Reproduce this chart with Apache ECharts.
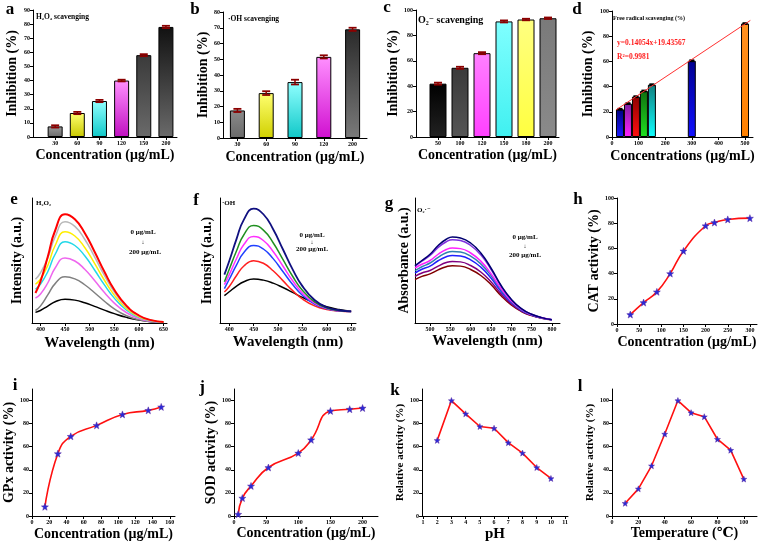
<!DOCTYPE html>
<html><head><meta charset="utf-8">
<script src="https://cdn.jsdelivr.net/npm/echarts@6/dist/echarts.min.js"></script>
<style>html,body{margin:0;padding:0;background:#fff;}#c{width:764px;height:548px;}</style>
</head><body><div id="c"></div>
<script>
// ---------------- DATA ----------------
// a: H2O2 scavenging
const aConc = ['30','60','90','120','150','200'];
const aInhib = [7.5, 17, 25.5, 40, 58, 78];
const aErr = [0.8, 0.8, 0.8, 0.6, 0.7, 0.8];
const aYTicks = [0,10,20,30,40,50,60,70,80,90];
// b: OH scavenging
const bConc = ['30','60','90','120','200'];
const bInhib = [17.5, 28.5, 35.5, 51.5, 69];
const bErr = [1, 1.2, 1.5, 1, 1];
const bYTicks = [0,10,20,30,40,50,60,70,80];
// c: O2- scavenging
const cConc = ['50','100','120','150','180','200'];
const cInhib = [42, 54.5, 66, 91, 92.5, 93.5];
const cErr = [0.8, 0.8, 0.8, 0.8, 0.6, 0.6];
const cYTicks = [0,20,40,60,80,100];
// d: free radical scavenging
const dConc = [30, 60, 90, 120, 150, 300, 500];
const dInhib = [22, 26.5, 32, 36.5, 41.5, 60.5, 90];
const dErr = [0.4, 0.4, 0.4, 0.4, 0.4, 0.4, 0.4];
const dFitX = [15, 520];
const dFitY = [21.5, 92.5];
const dXTicks = [0,100,200,300,400,500];
const dYTicks = [0,20,40,60,80,100];
// e: H2O2 fluorescence
const eWl = [390,400,415,430,450,470,490,510,530,550,575,600,625,650];
const eI0   = [24, 33, 53, 74, 87, 83, 72, 57, 41, 26.6, 13.7, 6, 2.3, 0.8];
const eI30  = [35, 40, 52, 69, 81, 77.3, 67, 52.9, 38, 24.8, 12.7, 5.6, 2.2, 0.7];
const eI60  = [31, 35, 46, 62, 73, 69.6, 60.4, 47.7, 34.2, 22.3, 11.5, 5, 2, 0.7];
const eI90  = [27, 31, 41, 55, 65, 62, 53.8, 42.4, 30.5, 19.9, 10.2, 4.5, 1.8, 0.6];
const eI120 = [20, 23, 32, 44, 52, 49.6, 43, 34, 24.4, 15.9, 8.2, 3.6, 1.4, 0.5];
const eI150 = [10, 13.5, 22.5, 31.5, 37, 35.3, 30.6, 24.2, 17.4, 11.3, 5.8, 2.6, 1, 0.4];
const eI200 = [8.5, 10, 13.5, 17, 19, 18.3, 16.2, 13.3, 10.3, 7.5, 4.5, 2.3, 1, 0.4];
const eXTicks = [400,450,500,550,600,650];
// f: OH fluorescence
const fWl = [390,400,415,430,450,470,490,510,530,550,575,600,625,650];
const fI0   = [38.7, 49.6, 67.3, 82.7, 91.5, 87, 75, 59, 42.9, 29.5, 18.4, 12.6, 10.2, 9.3];
const fI30  = [33, 43, 57.8, 70.6, 78.1, 74.3, 64.2, 50.9, 37.4, 26.2, 16.9, 12, 10, 9.3];
const fI60  = [30.7, 38.7, 51.6, 62.8, 69.3, 66, 57.2, 45.6, 33.8, 24, 15.9, 11.7, 9.8, 9.3];
const fI90  = [27.5, 35, 46.5, 56.4, 62.1, 59.2, 51.5, 41.2, 30.8, 22.2, 15.1, 11.3, 9.7, 9.3];
const fI120 = [24.8, 29.2, 38, 45.6, 49.9, 47.8, 41.8, 33.9, 25.9, 19.2, 13.7, 10.8, 9.6, 9.2];
const fI200 = [21.9, 25, 29.5, 33, 35.2, 34.3, 31.9, 28.4, 24.5, 20.5, 16.3, 13, 10.8, 9.4];
const fXTicks = [400,450,500,550,600,650];
// g: O2- absorbance
const gWl = [463,480,500,520,540,555,575,600,625,650,675,700,725,750,775,800];
const gA0   = [45.9, 50, 55, 62, 67, 68.8, 68, 64, 56, 44, 30, 19, 11.5, 7, 4.3, 2.7];
const gA50  = [45.5, 49.5, 54, 60.5, 65, 66.7, 66, 62, 54.5, 43, 29.5, 18.7, 11.3, 7, 4.3, 2.7];
const gA100 = [44, 47, 50, 55, 58.8, 60, 59.5, 56, 49.5, 39.5, 27.5, 17.7, 10.8, 6.7, 4.2, 2.7];
const gA120 = [41.9, 45, 48, 52.5, 56.2, 57.3, 56.8, 53.5, 47.3, 38, 26.5, 17.2, 10.5, 6.6, 4.1, 2.6];
const gA150 = [40, 43, 45.5, 49.8, 53, 54.1, 53.6, 50.5, 44.7, 36, 25.2, 16.5, 10.2, 6.4, 4, 2.6];
const gA180 = [37.3, 40, 42, 45.5, 48.4, 49.3, 48.9, 46, 40.8, 33, 23.3, 15.3, 9.6, 6.1, 3.9, 2.5];
const gA200 = [34.7, 37.3, 39.3, 42.5, 45, 45.9, 45.5, 42.8, 38, 30.8, 21.8, 14.4, 9.2, 5.9, 3.8, 2.5];
const gXTicks = [500,550,600,650,700,750,800];
// h: CAT activity
const hConc = [30, 60, 90, 120, 150, 200, 220, 250, 300];
const hAct = [7.5, 17, 25.5, 40, 58, 78, 80.5, 83, 84];
const hXTicks = [0,50,100,150,200,250,300];
const hYTicks = [0,20,40,60,80,100];
// i: GPx activity
const iConc = [15, 30, 45, 75, 105, 135, 150];
const iAct = [8, 54, 69, 78.5, 88, 91.5, 94.5];
const iXTicks = [0,20,40,60,80,100,120,140,160];
// j: SOD activity
const jConc = [6.5, 13, 26.5, 53.5, 100, 120, 150, 180, 200];
const jAct = [1.5, 15.5, 26, 42, 54.5, 66, 91, 92.5, 93.5];
const jXTicks = [0,50,100,150,200];
// k: pH
const kPH = [2, 3, 4, 5, 6, 7, 8, 9, 10];
const kAct = [65.5, 100, 88.5, 77.5, 76, 63.5, 54.5, 42, 32.5];
const kXTicks = [1,2,3,4,5,6,7,8,9,10,11];
// l: temperature
const lTemp = [10, 20, 30, 40, 50, 60, 70, 80, 90, 100];
const lAct = [11, 23.5, 43.5, 71, 100, 89.5, 86, 66.5, 57, 32];
const lXTicks = [0,20,40,60,80,100];
const actYTicks = [0,20,40,60,80,100];

// ---------------- STYLE ----------------
const SERIF = "'Liberation Serif','DejaVu Serif',serif";
const G = (t, b) => new echarts.graphic.LinearGradient(0,0,0,1,[{offset:0,color:t},{offset:1,color:b}]);
const aColors = [G('#9a9a9a','#6a6a6a'), G('#ffff70','#c8c800'), G('#90ffff','#10c8c8'), G('#ff90ff','#c010c0'), G('#3a3a3a','#6a6a6a'), G('#111111','#6a6a6a')];
const bColors = [G('#8a8a8a','#6a6a6a'), G('#ffff70','#d0d000'), G('#90ffff','#10c8c8'), G('#ff90ff','#d010d0'), G('#2a2a2a','#7a7a7a')];
const cColors = [G('#000000','#222222'), G('#3a3a3a','#555555'), G('#ff80ff','#ff40ff'), G('#80ffff','#40f0f0'), G('#ffff80','#ffff40'), G('#7a7a7a','#8a8a8a')];
const dColors = [G('#000080','#1a1aff'), G('#8020a0','#ff20ff'), G('#900000','#ff1010'), G('#107010','#20e020'), G('#108080','#10ffff'), G('#000090','#1010ff'), G('#ff9020','#ff8000')];

const grids = [
  {left:33, top:10, width:144, height:127},
  {left:223, top:12, width:144, height:126},
  {left:416, top:10, width:143, height:127},
  {left:612, top:11, width:141, height:126},
  {left:32, top:198, width:135, height:125},
  {left:220, top:198, width:136, height:125},
  {left:415, top:198, width:145, height:125},
  {left:617, top:198, width:140, height:126},
  {left:32, top:389, width:143, height:127},
  {left:234, top:389, width:144, height:127},
  {left:422, top:389, width:146, height:127},
  {left:612, top:389, width:145, height:127}
];

const lbl = {fontFamily:SERIF, fontWeight:'bold', fontSize:6, color:'#000'};
function axBase(gi, name, gap, size){
  return {gridIndex:gi, splitLine:{show:false},
    axisLine:{show:true, onZero:false, lineStyle:{color:'#000', width:1}},
    name:name, nameLocation:'middle', nameGap:gap,
    nameTextStyle:{fontFamily:SERIF, fontWeight:'bold', fontSize:size, color:'#000'}};
}
function vAx(gi, min, max, ticks, name, gap, size, fmt){
  const o = axBase(gi, name, gap, size);
  o.type = 'value'; o.min = min; o.max = max;
  if (ticks) {
    o.axisTick = {show:true, length:3, customValues:ticks, lineStyle:{color:'#000'}};
    o.axisLabel = Object.assign({show:true, margin:3, customValues:ticks}, lbl);
    if (fmt) o.axisLabel.formatter = fmt;
  } else {
    o.axisTick = {show:false}; o.axisLabel = {show:false};
  }
  return o;
}
const idxA = aConc.map((c,i)=>i), idxC = cConc.map((c,i)=>i);

const xAxes = [
  vAx(0, -1, 5.5, idxA, 'Concentration (μg/mL)', 11, 14, v=>aConc[v]),
  Object.assign(axBase(1, 'Concentration (μg/mL)', 12, 14), {type:'category', data:bConc, boundaryGap:true,
    axisTick:{show:true, length:3, alignWithLabel:true, lineStyle:{color:'#000'}}, axisLabel:Object.assign({margin:3}, lbl)}),
  vAx(2, -1, 5.5, idxC, 'Concentration (μg/mL)', 11, 14, v=>cConc[v]),
  vAx(3, 0, 530, dXTicks, 'Concentrations (μg/mL)', 12, 14),
  vAx(4, 383, 657, eXTicks, 'Wavelength (nm)', 13, 15),
  vAx(5, 381, 660, fXTicks, 'Wavelength (nm)', 12, 15),
  vAx(6, 463, 820, gXTicks, 'Wavelength (nm)', 11, 15),
  vAx(7, 0, 316, hXTicks, 'Concentration (μg/mL)', 11, 14),
  vAx(8, 0, 166, iXTicks, 'Concentration (μg/mL)', 11, 14),
  vAx(9, 0, 224, jXTicks, 'Concentration (μg/mL)', 10, 14),
  vAx(10, 0.93, 11.2, kXTicks, 'pH', 11, 15),
  vAx(11, 0, 110, lXTicks, 'Temperature (℃)', 10, 14)
];
const yAxes = [
  vAx(0, 0, 90, aYTicks, 'Inhibition (%)', 14, 14),
  vAx(1, 0, 80, bYTicks, 'Inhibition (%)', 13, 14),
  vAx(2, 0, 100, cYTicks, 'Inhibition (%)', 14, 14),
  vAx(3, 0, 100, dYTicks, 'Inhibition (%)', 17, 14),
  vAx(4, 0, 100, null, 'Intensity (a.u.)', 8, 14),
  vAx(5, 0, 100, null, 'Intensity (a.u.)', 6, 14),
  vAx(6, 0, 100, null, 'Absorbance (a.u.)', 4, 14),
  vAx(7, 0, 100, hYTicks, 'CAT activity (%)', 13, 14),
  vAx(8, 0, 110, actYTicks, 'GPx activity (%)', 13, 14),
  vAx(9, 0, 110, actYTicks, 'SOD activity (%)', 13, 14),
  vAx(10, 0, 110, actYTicks, 'Relative activity (%)', 15, 11),
  vAx(11, 0, 110, actYTicks, 'Relative activity (%)', 15, 11)
];

function errSeries(gi, data, color, capW){
  return {type:'custom', xAxisIndex:gi, yAxisIndex:gi, data:data, z:5, silent:true,
    renderItem:function(params, api){
      const x = api.value(0), v = api.value(1), e = api.value(2);
      const hi = api.coord([x, v+e]), lo = api.coord([x, v-e]);
      const w = capW/2;
      return {type:'group', children:[
        {type:'line', shape:{x1:hi[0], y1:hi[1], x2:lo[0], y2:lo[1]}, style:{stroke:color, lineWidth:1.5}},
        {type:'line', shape:{x1:hi[0]-w, y1:hi[1], x2:hi[0]+w, y2:hi[1]}, style:{stroke:color, lineWidth:1.8}},
        {type:'line', shape:{x1:lo[0]-w, y1:lo[1], x2:lo[0]+w, y2:lo[1]}, style:{stroke:color, lineWidth:1.8}}
      ]};
    }};
}
function barSeries(gi, pts, colors, w){
  return {type:'bar', xAxisIndex:gi, yAxisIndex:gi, barWidth:w, barGap:'-100%',
    data: pts.map((p,i)=>({value:p, itemStyle:{color:colors[i], borderColor:'#000', borderWidth:1}}))};
}
function curve(gi, xs, ys, color, w){
  return {type:'line', xAxisIndex:gi, yAxisIndex:gi, smooth:true, showSymbol:false, symbol:'none',
    data: xs.map((x,i)=>[x, ys[i]]), lineStyle:{color:color, width:w||1.5}};
}
const STAR = 'path://M12,1 L14.9,8.6 L23,9 L16.6,14 L18.8,22 L12,17.5 L5.2,22 L7.4,14 L1,9 L9.1,8.6 Z';
function actLine(gi, xs, ys, smooth, sym, size){
  return {type:'line', xAxisIndex:gi, yAxisIndex:gi, smooth:smooth, symbol:sym, symbolSize:size,
    data: xs.map((x,i)=>[x, ys[i]]), lineStyle:{color:'#ff1010', width:1.6},
    itemStyle:{color:'#2a2ad8', borderColor:'#5a2aa0', borderWidth:0.5}, z:3};
}

const series = [
  barSeries(0, aInhib.map((v,i)=>[i,v]), aColors, 15),
  errSeries(0, aInhib.map((v,i)=>[i, v, aErr[i]]), '#8b0000', 8),
  barSeries(1, bInhib.map((v,i)=>[i,v]), bColors, 15),
  errSeries(1, bInhib.map((v,i)=>[i, v, bErr[i]]), '#8b0000', 8),
  barSeries(2, cInhib.map((v,i)=>[i,v]), cColors, 17),
  errSeries(2, cInhib.map((v,i)=>[i, v, cErr[i]]), '#8b0000', 8),
  barSeries(3, dInhib.map((v,i)=>[dConc[i],v]), dColors, 8),
  errSeries(3, dInhib.map((v,i)=>[dConc[i], v, dErr[i]]), '#000', 5),
  {type:'line', xAxisIndex:3, yAxisIndex:3, symbol:'none', data:dFitX.map((x,i)=>[x, dFitY[i]]), lineStyle:{color:'#ff3030', width:1}, z:6},
  curve(4, eWl, eI200, '#000000'),
  curve(4, eWl, eI150, '#808080'),
  curve(4, eWl, eI120, '#ee66ee'),
  curve(4, eWl, eI90, '#22d8e8'),
  curve(4, eWl, eI60, '#ffee00'),
  curve(4, eWl, eI30, '#b8b8b8'),
  curve(4, eWl, eI0, '#ff0000', 2),
  curve(5, fWl, fI200, '#000000'),
  curve(5, fWl, fI120, '#ff2020'),
  curve(5, fWl, fI90, '#2040ff'),
  curve(5, fWl, fI60, '#ff30ff'),
  curve(5, fWl, fI30, '#209020'),
  curve(5, fWl, fI0, '#101080', 1.8),
  curve(6, gWl, gA200, '#800000'),
  curve(6, gWl, gA180, '#800080'),
  curve(6, gWl, gA150, '#2020ff'),
  curve(6, gWl, gA120, '#3080b0'),
  curve(6, gWl, gA100, '#ff20ff'),
  curve(6, gWl, gA50, '#8030e0'),
  curve(6, gWl, gA0, '#000070'),
  actLine(7, hConc, hAct, true, STAR, 7),
  actLine(8, iConc, iAct, true, STAR, 7),
  actLine(9, jConc, jAct, true, STAR, 7),
  actLine(10, kPH, kAct, false, STAR, 6),
  actLine(11, lTemp, lAct, false, STAR, 6)
];

function T(x, y, text, size, opts){
  return {type:'text', x:x, y:y, silent:true, z:100, style:Object.assign({text:text, fill:'#000',
    font:'bold ' + size + 'px ' + SERIF, align:'center', verticalAlign:'middle'}, opts||{})};
}
const graphics = [
  T(10,10,'a',17), T(195,10,'b',17), T(387,8,'c',17), T(577,10,'d',17),
  T(14,200,'e',17), T(196,201,'f',17), T(389,204,'g',17), T(578,200,'h',17),
  T(15,386,'i',17), T(202,388,'j',17), T(395,391,'k',17), T(580,387,'l',17),
  T(36,17,'H₂O₂ scavenging',7.5,{align:'left'}),
  T(228,19,'·OH scavenging',7.5,{align:'left'}),
  T(418,20,'O₂⁻ scavenging',10,{align:'left'}),
  T(613,18,'Free radical scavenging (%)',6,{align:'left'}),
  T(617,43,'y=0.14054x+19.43567',7.5,{align:'left', fill:'#ff2020'}),
  T(617,57,'R²=0.9981',7.5,{align:'left', fill:'#ff2020'}),
  T(36,203,'H₂O₂',7,{align:'left'}),
  T(143,232,'0 μg/mL',7), T(143,242,'↓',6), T(145,252,'200 μg/mL',7),
  T(222,203,'·OH',7,{align:'left'}),
  T(312,235,'0 μg/mL',7), T(312,242,'↓',6), T(312,249,'200 μg/mL',7),
  T(417,210,'O₂·⁻',7,{align:'left'}),
  T(525,237,'0 μg/mL',7), T(525,246,'↓',6), T(525,255,'200 μg/mL',7)
];

const chart = echarts.init(document.getElementById('c'), null, {renderer:'canvas', width:764, height:548});
chart.setOption({
  backgroundColor:'#ffffff',
  animation:false,
  grid:grids,
  xAxis:xAxes,
  yAxis:yAxes,
  series:series,
  graphic:graphics
});
</script></body></html>
